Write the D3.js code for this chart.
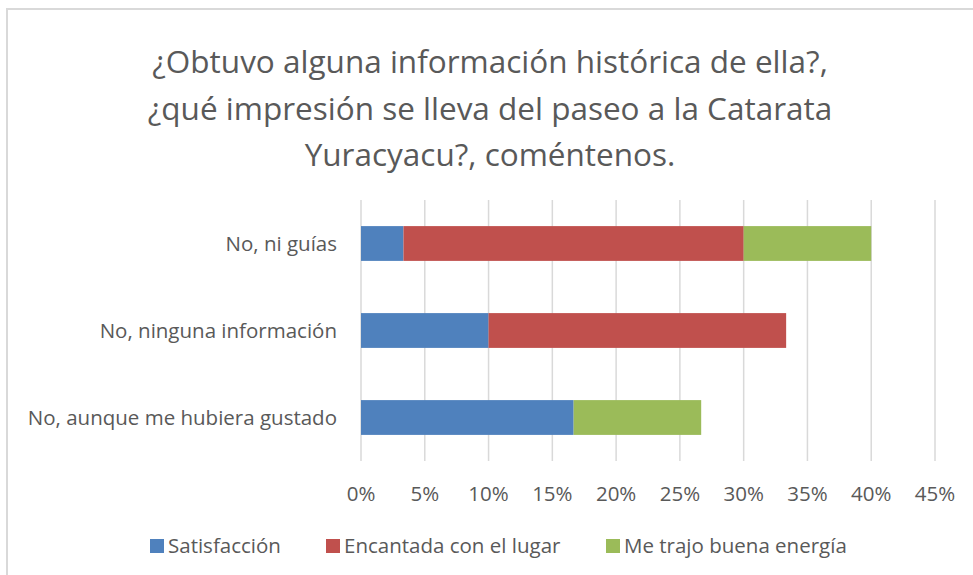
<!DOCTYPE html>
<html>
<head>
<meta charset="utf-8">
<script src="https://cdn.jsdelivr.net/npm/d3@7"></script>
<style>
  body { margin: 0; background: #fff; }
  svg { display: block; font-family: "Open Sans", sans-serif; }
</style>
</head>
<body>
<svg id="chart"></svg>
<script>
// Chart data
const categories = ["No, ni guías", "No, ninguna información", "No, aunque me hubiera gustado"];
const seriesNames = ["Satisfacción", "Encantada con el lugar", "Me trajo buena energía"];
const satisfaccion = [0.0333, 0.10, 0.1667];
const encantada = [0.2667, 0.2333, 0];
const energia = [0.10, 0, 0.10];
const colors = ["#4F81BD", "#C0504D", "#9BBB59"];
const xTicks = [0, 0.05, 0.10, 0.15, 0.20, 0.25, 0.30, 0.35, 0.40, 0.45];
const titleLines = [
  "¿Obtuvo alguna información histórica de ella?,",
  "¿qué impresión se lleva del paseo a la Catarata",
  "Yuracyacu?, coméntenos."
];

const width = 973;
const height = 575;

const svg = d3.select("#chart").attr("width", width).attr("height", height);

// Chart border
svg.append("rect")
  .attr("x", 7).attr("y", 9)
  .attr("width", width + 10).attr("height", height + 10)
  .attr("fill", "#fff")
  .attr("stroke", "#d9d9d9")
  .attr("stroke-width", 2);

// Title
svg.append("text")
  .attr("text-anchor", "middle")
  .attr("fill", "#595959")
  .attr("font-size", 31.5)
  .selectAll("tspan")
  .data(titleLines)
  .enter()
  .append("tspan")
  .attr("x", 490)
  .attr("y", (d, i) => 73 + i * 46.5)
  .text((d) => d);

// Scales
const x = d3.scaleLinear().domain([0, 0.45]).range([361, 935]);
const y = d3.scaleBand().domain(categories).range([200, 461]).paddingInner(0.6).paddingOuter(0.3);

// Gridlines
svg.append("g")
  .selectAll("line")
  .data(xTicks)
  .enter()
  .append("line")
  .attr("x1", (d) => x(d)).attr("x2", (d) => x(d))
  .attr("y1", 200).attr("y2", 461)
  .attr("stroke", "#d9d9d9")
  .attr("stroke-width", 1.5);

// Stacked data
const rows = categories.map((c, i) => ({
  cat: c,
  s0: satisfaccion[i],
  s1: encantada[i],
  s2: energia[i]
}));
const stack = d3.stack().keys(["s0", "s1", "s2"]);
const stacked = stack(rows);

svg.append("g")
  .selectAll("g")
  .data(stacked)
  .enter()
  .append("g")
  .attr("fill", (d, i) => colors[i])
  .selectAll("rect")
  .data((d) => d)
  .enter()
  .append("rect")
  .attr("x", (d) => x(d[0]))
  .attr("y", (d) => y(d.data.cat))
  .attr("width", (d) => x(d[1]) - x(d[0]))
  .attr("height", y.bandwidth());

// Category labels
svg.append("g")
  .selectAll("text")
  .data(categories)
  .enter()
  .append("text")
  .attr("x", 337)
  .attr("y", (d) => y(d) + y.bandwidth() / 2)
  .attr("dy", "0.35em")
  .attr("text-anchor", "end")
  .attr("fill", "#595959")
  .attr("font-size", 20.5)
  .text((d) => d);

// X axis labels
const fmt = d3.format(".0%");
svg.append("g")
  .selectAll("text")
  .data(xTicks)
  .enter()
  .append("text")
  .attr("x", (d) => x(d))
  .attr("y", 494)
  .attr("dy", "0.35em")
  .attr("text-anchor", "middle")
  .attr("fill", "#595959")
  .attr("font-size", 20.5)
  .text((d) => fmt(d));

// Legend
const legendX = [150, 326, 606];
const legend = svg.append("g")
  .selectAll("g")
  .data(seriesNames)
  .enter()
  .append("g")
  .attr("transform", (d, i) => `translate(${legendX[i]},546)`);
legend.append("rect")
  .attr("x", 0).attr("y", -7)
  .attr("width", 14).attr("height", 14)
  .attr("fill", (d, i) => colors[i]);
legend.append("text")
  .attr("x", 18)
  .attr("dy", "0.35em")
  .attr("fill", "#595959")
  .attr("font-size", 20.5)
  .text((d) => d);
</script>
</body>
</html>
